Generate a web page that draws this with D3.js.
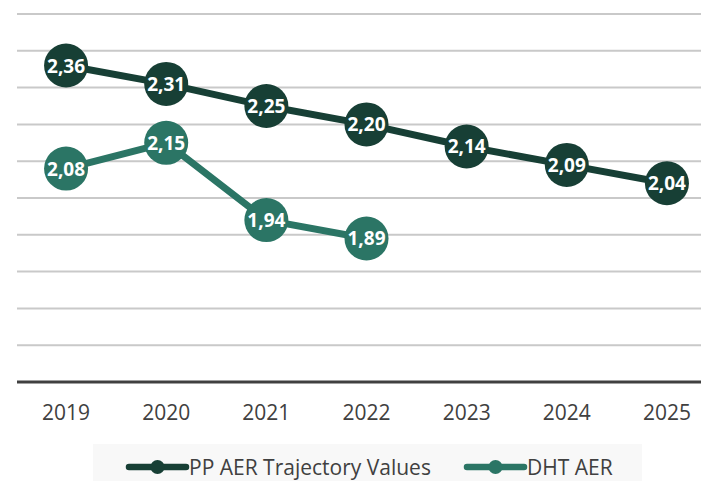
<!DOCTYPE html>
<html>
<head>
<meta charset="utf-8">
<script src="https://cdn.jsdelivr.net/npm/d3@7"></script>
<style>
  body { margin: 0; background: #fff; }
  text { font-family: "Open Sans", "DejaVu Sans", sans-serif; }
</style>
</head>
<body>
<div id="chart-area"></div>
<script>
// data
var years = ["2019", "2020", "2021", "2022", "2023", "2024", "2025"];
var ppValues = [2.36, 2.31, 2.25, 2.20, 2.14, 2.09, 2.04];
var dhtValues = [2.08, 2.15, 1.94, 1.89];
var yTicks = [1.5, 1.6, 1.7, 1.8, 1.9, 2.0, 2.1, 2.2, 2.3, 2.4, 2.5];
var seriesNames = ["PP AER Trajectory Values", "DHT AER"];
var seriesColors = ["#173f35", "#2b7565"];

var width = 701, height = 481;

var svg = d3.select("#chart-area")
    .append("svg")
        .attr("width", width)
        .attr("height", height);

// Scales
var x = d3.scaleBand()
    .domain(years)
    .range([16, 717]);
var y = d3.scaleLinear()
    .domain([1.5, 2.5])
    .range([382, 14]);

function cx(d, i) { return x(years[i]) + x.bandwidth() / 2; }

// gridlines
svg.append("g")
    .selectAll("line")
    .data(yTicks.slice(1))
    .enter().append("line")
        .attr("x1", 17)
        .attr("x2", 701)
        .attr("y1", function(d) { return y(d); })
        .attr("y2", function(d) { return y(d); })
        .attr("stroke", "#c9c9c9")
        .attr("stroke-width", 2);

// baseline
svg.append("line")
    .attr("x1", 17)
    .attr("x2", 701)
    .attr("y1", y(1.5))
    .attr("y2", y(1.5))
    .attr("stroke", "#404040")
    .attr("stroke-width", 3);

// X axis labels
var xAxisCall = d3.axisBottom(x).tickSize(0).tickPadding(23);
var xAxis = svg.append("g")
    .attr("transform", "translate(0," + y(1.5) + ")")
    .call(xAxisCall);
xAxis.select(".domain").remove();
xAxis.selectAll("text")
    .attr("font-size", "21px")
    .attr("fill", "#404040")
    .style("font-family", "'Open Sans', sans-serif");

var line = d3.line()
    .x(cx)
    .y(function(d) { return y(d); });

var series = [ppValues, dhtValues];

series.forEach(function(vals, s) {
    var g = svg.append("g");
    g.append("path")
        .datum(vals)
        .attr("d", line)
        .attr("fill", "none")
        .attr("stroke", seriesColors[s])
        .attr("stroke-width", 7)
        .attr("stroke-linejoin", "round");

    g.selectAll("circle")
        .data(vals)
        .enter().append("circle")
            .attr("cx", cx)
            .attr("cy", function(d) { return y(d); })
            .attr("r", 22)
            .attr("fill", seriesColors[s]);

    g.selectAll("text.lbl")
        .data(vals)
        .enter().append("text")
            .attr("class", "lbl")
            .attr("x", cx)
            .attr("y", function(d) { return y(d) + 7; })
            .attr("text-anchor", "middle")
            .attr("font-size", "19px")
            .attr("font-weight", "bold")
            .attr("fill", "#fff")
            .text(function(d) { return d3.format(".2f")(d).replace(".", ","); });
});

// Legend
svg.append("rect")
    .attr("x", 93)
    .attr("y", 444)
    .attr("width", 549)
    .attr("height", 37)
    .attr("fill", "#f8f8f8");

var legendX = [129, 467];
var legendW = [57, 57];
seriesNames.forEach(function(name, i) {
    var row = svg.append("g")
        .attr("transform", "translate(" + legendX[i] + ",467)");
    row.append("line")
        .attr("x1", 0)
        .attr("x2", legendW[i])
        .attr("stroke", seriesColors[i])
        .attr("stroke-width", 6.5)
        .attr("stroke-linecap", "round");
    row.append("circle")
        .attr("cx", legendW[i] / 2)
        .attr("r", 7)
        .attr("fill", seriesColors[i]);
    row.append("text")
        .attr("x", legendW[i] + 3)
        .attr("y", 7.5)
        .attr("font-size", "21px")
        .attr("fill", "#404040")
        .text(name);
});
</script>
</body>
</html>
